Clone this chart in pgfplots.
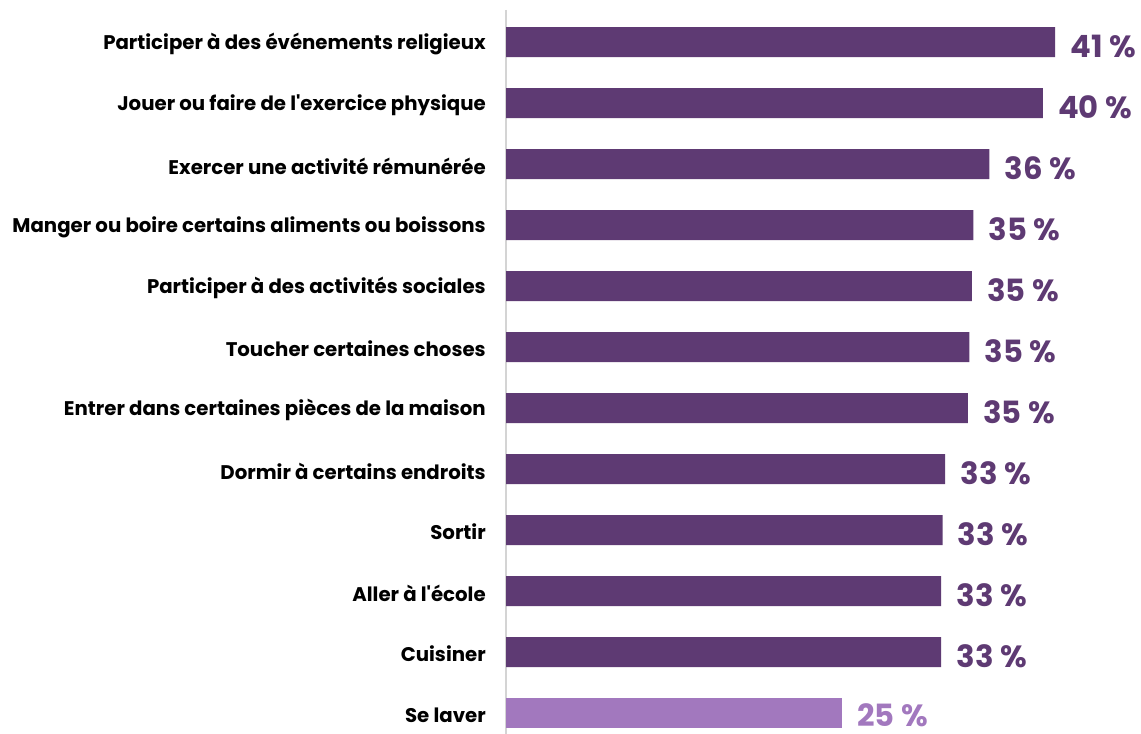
\documentclass[border=0pt]{standalone}
\usepackage{fontspec}
\setmainfont{Poppins}
\usepackage{pgfplots}
\usepackage{pgfplotstable}
\pgfplotsset{compat=1.18}
\definecolor{darkpurple}{HTML}{5E3A73}
\definecolor{lightpurple}{HTML}{A278BE}
\definecolor{axisgray}{HTML}{D4D4D4}
\pgfplotstableread{
y val lab
0 41.0 41
1 40.1 40
2 36.1 36
3 34.9 35
4 34.8 35
5 34.6 35
6 34.5 35
7 32.8 33
8 32.6 33
9 32.5 33
10 32.5 33
}\darktab
\pgfplotstableread{
y val lab
11 25.1 25
}\lighttab
\begin{document}
\begin{tikzpicture}
\useasboundingbox (0,0) rectangle (855.75pt,550.5pt);
\begin{axis}[
  at={(379.5pt,0pt)}, anchor=south west,
  scale only axis, width=411.75pt, height=543pt,
  xmin=0, xmax=41, ymin=-0.525, ymax=11.344,
  y dir=reverse,
  axis x line=none,
  axis y line=left,
  y axis line style={axisgray, line width=1pt, -},
  ytick={0,...,11},
  yticklabels={Participer à des événements religieux,Jouer ou faire de l\textquotesingle exercice physique,Exercer une activité rémunérée,Manger ou boire certains aliments ou boissons,Participer à des activités sociales,Toucher certaines choses,Entrer dans certaines pièces de la maison,Dormir à certains endroits,Sortir,Aller à l\textquotesingle école,Cuisiner,Se laver},
  major tick length=0pt,
  yticklabel style={font=\fontsize{14.8}{17}\selectfont\bfseries, inner sep=0pt, xshift=-15pt, yshift=-1.5pt, anchor=east},
  xbar, bar width=22.5pt, bar shift=0pt,
  clip=false,
  point meta=explicit symbolic,
  nodes near coords={\pgfplotspointmeta~\%},
  nodes near coords style={anchor=west, inner sep=0pt, xshift=11.25pt, yshift=-3pt, font=\fontsize{23}{25}\selectfont\bfseries},
]
\addplot[fill=darkpurple, draw=none, nodes near coords style={text=darkpurple}] table[x=val, y=y, meta=lab] {\darktab};
\addplot[fill=lightpurple, draw=none, nodes near coords style={text=lightpurple, yshift=1.5pt}] table[x=val, y=y, meta=lab] {\lighttab};
\end{axis}
\end{tikzpicture}
\end{document}
